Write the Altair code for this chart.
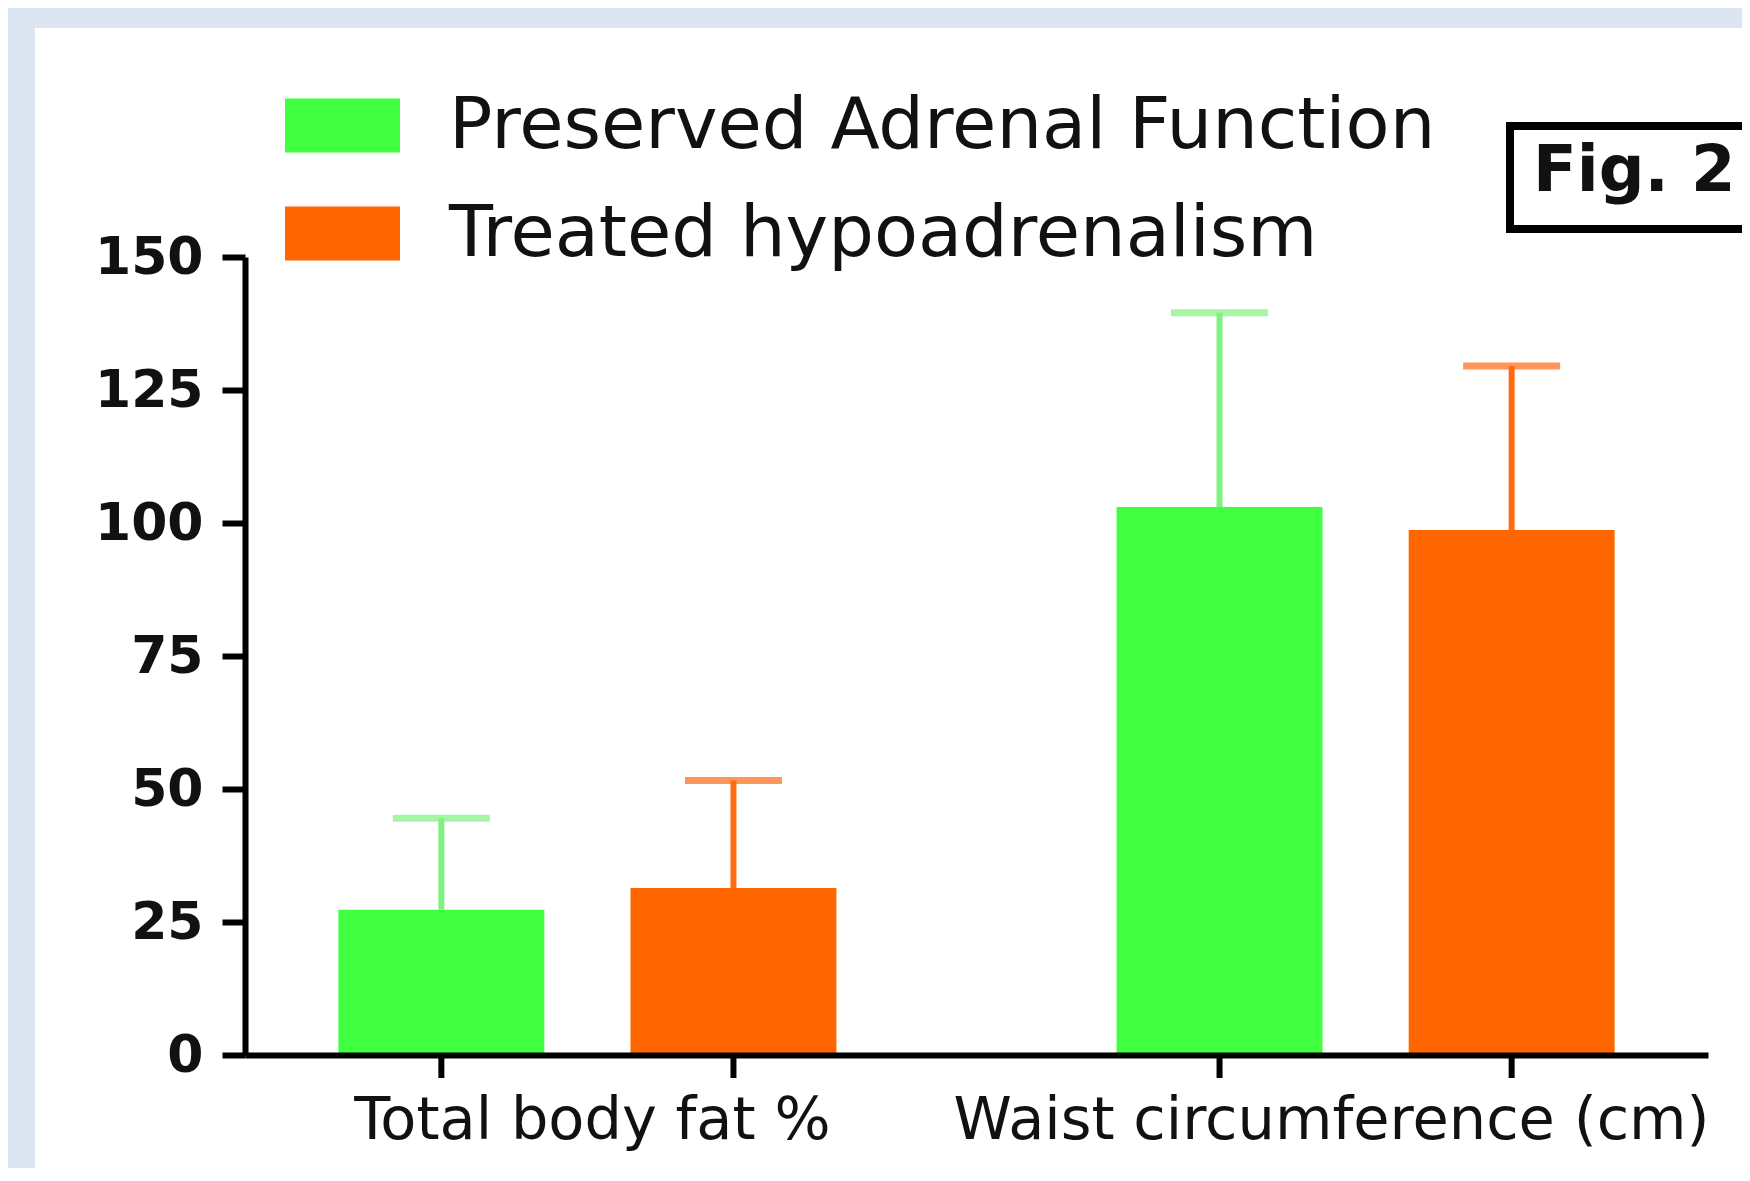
import altair as alt
import pandas as pd

# ---- data ----
categories = ["Total body fat %", "Waist circumference (cm)"]
series = ["Preserved Adrenal Function", "Treated hypoadrenalism"]
preserved_mean = [27.3, 103.0]
preserved_sd = [17.2, 36.5]
treated_mean = [31.4, 98.7]
treated_sd = [20.2, 30.8]
y_ticks = [0, 25, 50, 75, 100, 125, 150]

bar_colors = ["#40ff40", "#ff6600"]
err_colors = ["#80f280", "#ff6a12"]

rows = []
for i, c in enumerate(categories):
    rows.append({"group": c, "series": series[0], "mean": preserved_mean[i],
                 "upper": preserved_mean[i] + preserved_sd[i]})
    rows.append({"group": c, "series": series[1], "mean": treated_mean[i],
                 "upper": treated_mean[i] + treated_sd[i]})
df = pd.DataFrame(rows)

W, H = 1463, 798

x_enc = alt.X(
    "group:N",
    sort=categories,
    scale=alt.Scale(paddingInner=0.36, paddingOuter=0.12),
    axis=alt.Axis(
        title=None,
        labelAngle=0,
        ticks=False,
        labelFont="DejaVu Sans",
        labelFontSize=59,
        labelColor="#111111",
        labelPadding=36,
        labelLimit=2000,
        domainColor="#000000",
        domainWidth=6,
        labelOffset={"condition": {"test": "datum.index == 1", "value": -34}, "value": 5},
        zindex=2,
    ),
)
xoff = alt.XOffset("series:N", sort=series,
                   scale=alt.Scale(paddingInner=0.295, paddingOuter=0))

y_scale = alt.Scale(domain=[0, 150], nice=False, zero=True)
y_axis = alt.Axis(
    title=None,
    values=y_ticks,
    grid=False,
    labelFont="DejaVu Sans",
    labelFontWeight="bold",
    labelFontSize=52,
    labelColor="#111111",
    labelPadding=19,
    tickSize=23,
    tickWidth=6,
    tickColor="#000000",
    domainColor="#000000",
    domainWidth=6,
    zindex=2,
)

base = alt.Chart(df)

bars = base.mark_bar(strokeWidth=0).encode(
    x=x_enc,
    xOffset=xoff,
    y=alt.Y("mean:Q", scale=y_scale, axis=y_axis),
    color=alt.Color(
        "series:N",
        sort=series,
        scale=alt.Scale(domain=series, range=bar_colors),
        legend=alt.Legend(
            title=None,
            orient="none",
            legendX=40,
            legendY=-189,
            direction="vertical",
            symbolType="M-1,-0.47H1V0.47H-1Z",
            symbolSize=13225,
            symbolStrokeWidth=0,
            symbolOpacity=1,
            labelFont="DejaVu Sans",
            labelFontSize=72,
            labelColor="#111111",
            labelLimit=3000,
            labelOffset=49,
            rowPadding=14,
            padding=0,
        ),
    ),
)

err_color = (
    alt.when(alt.datum.series == series[0])
    .then(alt.value(err_colors[0]))
    .otherwise(alt.value(err_colors[1]))
)

err_line = base.mark_rule(strokeWidth=6).encode(
    x=alt.X("group:N", sort=categories),
    xOffset=alt.XOffset("series:N", sort=series),
    y=alt.Y("mean:Q", scale=y_scale),
    y2="upper:Q",
    color=err_color,
)

err_cap = base.mark_tick(thickness=7, size=97).encode(
    x=alt.X("group:N", sort=categories),
    xOffset=alt.XOffset("series:N", sort=series),
    y=alt.Y("upper:Q", scale=y_scale),
    color=err_color,
)

x_ticks = base.mark_rule(strokeWidth=6, color="#000000").encode(
    x=alt.X("group:N", sort=categories),
    xOffset=alt.XOffset("series:N", sort=series),
    y=alt.value(H),
    y2=alt.value(H + 23),
)

one = alt.Data(values=[{"label": "Fig. 2"}])

panel = alt.Chart(one).mark_rect(color="#ffffff").encode(
    x=alt.value(-210), x2=alt.value(W + 60),
    y=alt.value(-229), y2=alt.value(H + 140),
)

fig_box = alt.Chart(one).mark_rect(
    fill="#ffffff", stroke="#000000", strokeWidth=8
).encode(
    x=alt.value(1265), x2=alt.value(1540),
    y=alt.value(-131), y2=alt.value(-28),
)

fig_text = alt.Chart(one).mark_text(
    font="DejaVu Sans", fontWeight="bold", fontSize=64, align="left",
    baseline="alphabetic", color="#111111",
).encode(
    x=alt.value(1288), y=alt.value(-66), text="label:N",
)

chart = alt.layer(
    panel, bars, err_line, err_cap, x_ticks, fig_box, fig_text
).properties(
    width=W, height=H,
    autosize=alt.AutoSizeParams(type="none"),
    padding={"left": 237, "top": 249, "right": 34, "bottom": 113},
    background="#dce6f3",
).configure_view(stroke=None)

chart.save("out.html", embed_options={"renderer": "svg", "actions": False})
